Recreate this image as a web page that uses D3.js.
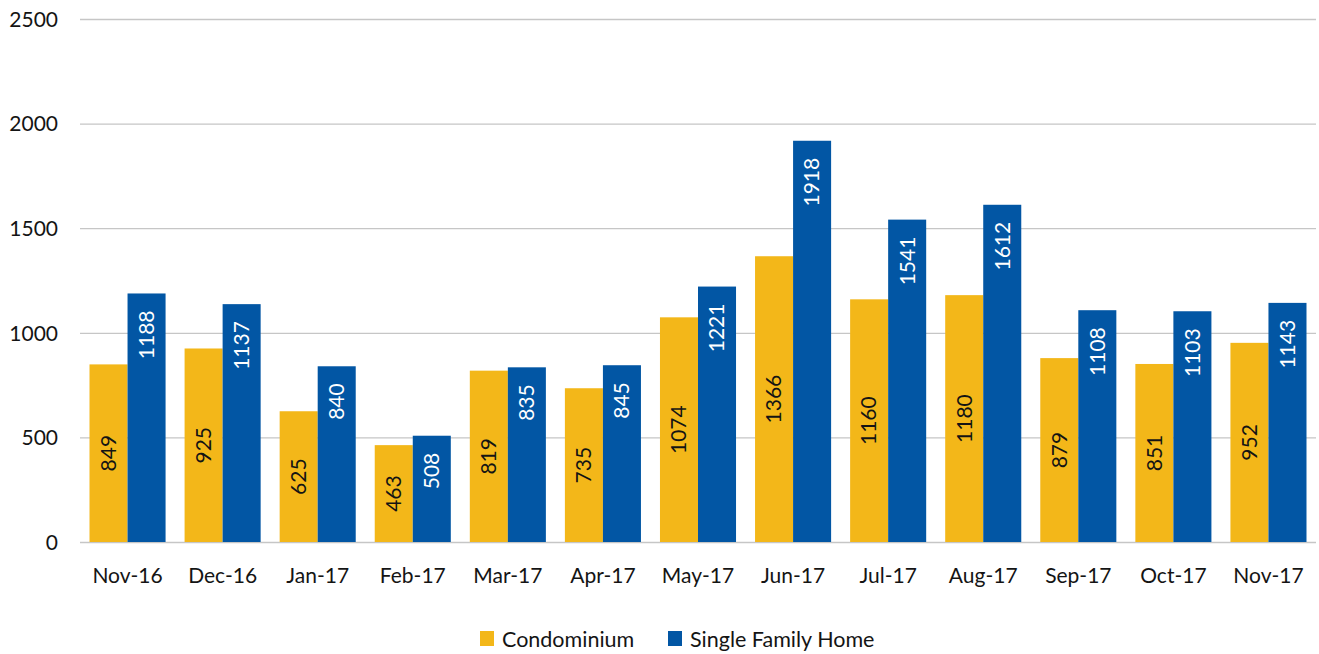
<!DOCTYPE html>
<html>
<head>
<meta charset="utf-8">
<script src="https://cdn.jsdelivr.net/npm/d3@7"></script>
<style>
body { margin: 0; background: #fff; }
text { font-family: Lato, "Open Sans", sans-serif; }
</style>
</head>
<body>
<div id="chart"></div>
<script>
// data
const months = ["Nov-16","Dec-16","Jan-17","Feb-17","Mar-17","Apr-17","May-17","Jun-17","Jul-17","Aug-17","Sep-17","Oct-17","Nov-17"];
const condo = [849, 925, 625, 463, 819, 735, 1074, 1366, 1160, 1180, 879, 851, 952];
const single = [1188, 1137, 840, 508, 835, 845, 1221, 1918, 1541, 1612, 1108, 1103, 1143];
const seriesNames = ["Condominium", "Single Family Home"];
const yTicks = [0, 500, 1000, 1500, 2000, 2500];

const W = 1319, H = 654;
const colors = ["#F3B719", "#0256A4"];
const ink = "#141414";

const svg = d3.select("#chart").append("svg")
.attr("width", W).attr("height", H);

const x = d3.scaleBand()
.domain(months)
.range([80, 1316])
.paddingInner(0.2)
.paddingOuter(0.1);

const xs = d3.scaleBand()
.domain(seriesNames)
.range([0, x.bandwidth()]);

const y = d3.scaleLinear()
.domain([0, 2500])
.range([542, 19]);

// gridlines
svg.append("g")
.selectAll("line")
.data(yTicks)
.enter().append("line")
.attr("x1", 80).attr("x2", 1316)
.attr("y1", d => y(d) + 0.5).attr("y2", d => y(d) + 0.5)
.attr("stroke", "#c6c6c6")
.attr("stroke-width", 1.3);

// y axis labels
const yAxis = d3.axisLeft(y).tickValues(yTicks).tickFormat(d3.format("d")).tickSize(0).tickPadding(0);
const gy = svg.append("g").attr("transform", "translate(58,0)").call(yAxis);
gy.select(".domain").remove();
gy.selectAll("text").attr("font-size", 21).attr("fill", ink).attr("dy", "0.35em");

// bars
const rows = months.map((m, i) => ({ m, vals: [condo[i], single[i]] }));
const grp = svg.selectAll(".cat")
.data(rows)
.enter().append("g")
.attr("transform", d => `translate(${x(d.m)},0)`);

grp.selectAll("rect")
.data(d => d.vals.map((v, k) => ({ v, k })))
.enter().append("rect")
.attr("x", d => xs(seriesNames[d.k]))
.attr("width", xs.bandwidth())
.attr("y", d => y(d.v))
.attr("height", d => y(0) - y(d.v))
.attr("fill", d => colors[d.k]);

// value labels (rotated): condo centred, single family at inside end
grp.selectAll("text.val")
.data(d => d.vals.map((v, k) => ({ v, k })))
.enter().append("text")
.attr("class", "val")
.attr("transform", d => {
  const cx = xs(seriesNames[d.k]) + xs.bandwidth() / 2;
  const cy = d.k === 0 ? (y(d.v) + y(0)) / 2 : y(d.v) + 17;
  return `translate(${cx},${cy}) rotate(-90)`;
})
.attr("text-anchor", d => d.k === 0 ? "middle" : "end")
.attr("dy", "0.35em")
.attr("font-size", 21)
.attr("fill", d => d.k === 0 ? ink : "#fff")
.text(d => d.v);

// x axis labels
const xAxis = d3.axisBottom(x).tickSize(0).tickPadding(0);
const gx = svg.append("g").attr("transform", "translate(0,576)").call(xAxis);
gx.select(".domain").remove();
gx.selectAll("text").attr("font-size", 21).attr("fill", ink).attr("dy", "0.35em");

// legend
const legendX = [480, 668];
const legend = svg.append("g").selectAll("g")
.data(seriesNames)
.enter().append("g")
.attr("transform", (d, i) => `translate(${legendX[i]},631)`);
legend.append("rect")
.attr("width", 14).attr("height", 15)
.attr("fill", (d, i) => colors[i]);
legend.append("text")
.attr("x", 22).attr("y", 8)
.attr("dy", "0.35em")
.attr("font-size", 21.5)
.attr("fill", ink)
.text(d => d);
</script>
</body>
</html>
